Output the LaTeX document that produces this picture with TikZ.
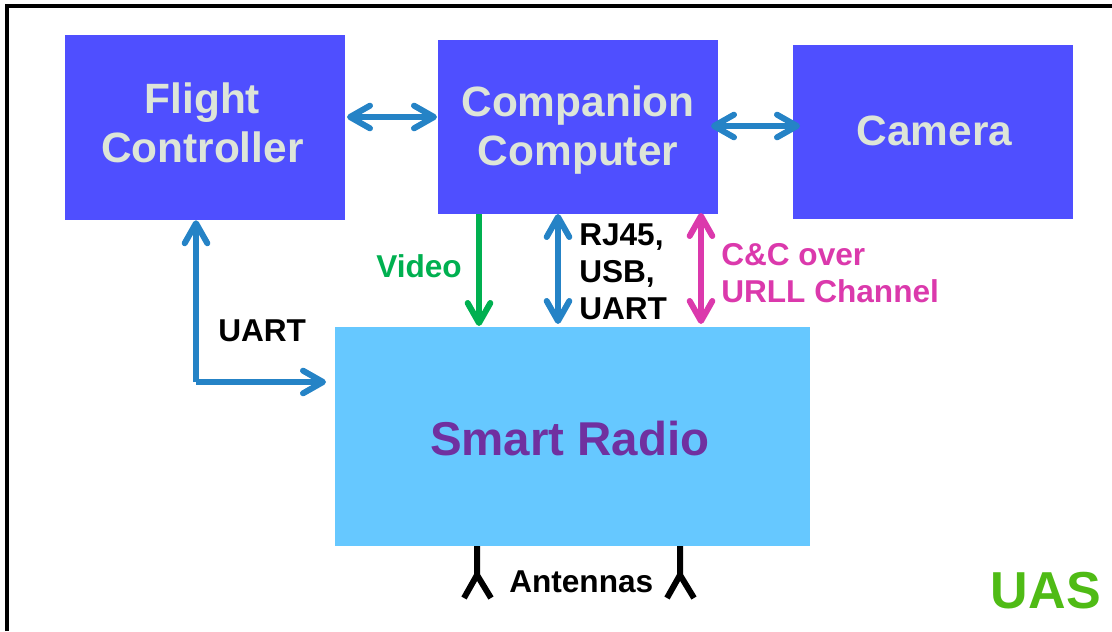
\documentclass[tikz,border=0pt]{standalone}
\usepackage{fontspec}
\setmainfont{Liberation Sans}
\usetikzlibrary{arrows.meta}
\definecolor{boxblue}{RGB}{79,79,255}
\definecolor{boxtext}{RGB}{221,229,216}
\definecolor{radioblue}{RGB}{102,200,255}
\definecolor{linkblue}{RGB}{37,131,198}
\definecolor{videogreen}{RGB}{0,176,80}
\definecolor{ccpink}{RGB}{219,57,172}
\definecolor{radiopurple}{RGB}{112,48,160}
\definecolor{uasgreen}{RGB}{79,187,21}
\newcommand{\movedtext}[3]{\makebox[0pt]{\kern#1\raisebox{#2}[0pt][0pt]{\begin{tabular}{@{}c@{}}#3\end{tabular}}}}
\tikzset{
  unitbox/.style={fill=boxblue,text=boxtext,minimum width=210pt,inner sep=0pt,font=\bfseries\fontsize{31.8}{36.75}\selectfont},
  linklabel/.style={inner sep=0.75pt,align=left,font=\bfseries\fontsize{23.7}{27.6}\selectfont},
  link/.style={line width=4.5pt,color=linkblue},
  bothways/.style={{Straight Barb[length=15pt,width=17pt,round,line width=4.5pt]}-{Straight Barb[length=15pt,width=17pt,round,line width=4.5pt]}},
  oneway/.style={-{Straight Barb[length=15pt,width=17pt,round,line width=4.5pt]}},
  antenna/.style={line width=4.5pt}
}
\begin{document}
\begin{tikzpicture}[x=0.75pt,y=0.75pt,yscale=-1,xscale=1]
\useasboundingbox (0,0) rectangle (1112,631);
\draw [line width=3.2pt] (7,631) -- (7,6) -- (1112,6);
% boxes
\node [unitbox,minimum height=138.75pt] (fc) at (205,127.5) {\movedtext{-4pt}{-6.75pt}{Flight\\Controller}};
\node [unitbox,minimum height=130.5pt] (cc) at (578,127) {\movedtext{0pt}{-9pt}{Companion\\Computer}};
\node [unitbox,minimum height=130.5pt] (cam) at (933,132) {\movedtext{2pt}{-9pt}{Camera}};
\node [fill=radioblue,text=radiopurple,minimum width=356.25pt,minimum height=164.25pt,inner sep=0pt,font=\bfseries\fontsize{35.6}{40}\selectfont] (radio) at (572.5,436.5) {\movedtext{-4pt}{-12.4pt}{Smart Radio}};
% links
\coordinate (corner) at (196,382);
\draw [link,oneway] (corner) -- (corner |- fc.south);
\draw [link,oneway] (corner) -- (326,382);
\draw [link,bothways] (347,117) -- (437,117);
\draw [link,bothways] (711,126) -- (800,126);
\draw [link,color=videogreen,oneway] (479,214) -- (479,326);
\draw [link,bothways] (558,214) -- (558,324);
\draw [link,color=ccpink,bothways] (701,213) -- (701,324);
% antennas
\draw [antenna] (477,546) -- (477,575) (464,598) -- (477,575) -- (491,598);
\draw [antenna] (680,546) -- (680,575) (667,598) -- (680,575) -- (694,598);
% labels
\node [linklabel,anchor=base west] (uart) at (217,341) {UART};
\node [linklabel,anchor=base west,text=videogreen] (video) at (375,277) {Video};
\node [linklabel,anchor=west] (wired) at (578,272) {RJ45,\\USB,\\UART};
\node [linklabel,anchor=west,text=ccpink] (urll) at (720,273) {C\&C over\\URLL Channel};
\node [linklabel,anchor=base west] (ants) at (508,592) {Antennas};
\node [anchor=base east,inner sep=0.75pt,text=uasgreen,font=\bfseries\fontsize{39}{44}\selectfont] (uas) at (1102,608) {UAS};
\end{tikzpicture}
\end{document}
